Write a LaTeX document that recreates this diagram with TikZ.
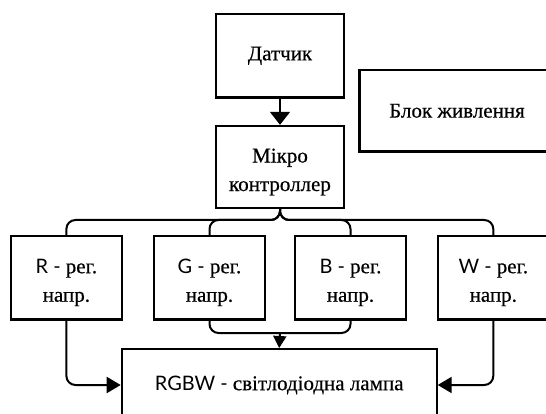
\documentclass[tikz,border=0pt]{standalone}
\usepackage{fontspec}
\setmainfont{Liberation Serif}
\newfontfamily\ser{Liberation Serif}[FakeBold=0.5]
\newfontfamily\lat{Lato}[Scale=0.95]
\newcommand\myup{\rule{0pt}{24pt}}
\usetikzlibrary{arrows.meta}
\begin{document}
\begin{tikzpicture}[x=1pt,y=-1pt,
  blk/.style={draw, line width=2.4pt, inner sep=0pt, align=center,
    font=\ser\fontsize{21}{28.5}\selectfont},
  regbox/.style={blk, line width=2.2pt, minimum width=110.5pt, minimum height=83.5pt},
  conn/.style={line width=2pt, rounded corners=9pt},
  tip/.style={-{Triangle[length=14pt,width=16pt]}}]
\useasboundingbox (0,0) rectangle (546,414);
\node[blk, minimum width=128.5pt, minimum height=83.5pt] (d) at (280,55.7) {Датчик};
\node[blk, minimum width=128pt, minimum height=82pt] (m) at (280,167) {\myup Мікро\\контроллер};
\node[blk, minimum width=195pt, minimum height=81.7pt, anchor=west] (p) at (358.3,110.8) {Блок живлення};
\node[regbox] (r) at (66.4,277.7) {\myup{\lat R - }рег.\\напр.};
\node[regbox] (g) at (209.5,277.7) {\myup{\lat G - }рег.\\напр.};
\node[regbox] (b) at (350.5,277.7) {\myup{\lat B - }рег.\\напр.};
\node[regbox] (w) at (493.3,277.7) {\myup{\lat W - }рег.\\напр.};
\node[blk, line width=2pt, minimum width=315pt, minimum height=72pt] (l) at (279.2,385) {{\lat RGBW - }світлодіодна лампа};
\coordinate (bus) at (280,220);
\coordinate (brk) at (280,333);
\draw[conn, -{Triangle[length=13pt,width=20pt]}] (d.south) -- (m.north);
\draw[conn] (m.south) -- (bus) -| (r.north);
\draw[conn] (m.south) -- (bus) -| (g.north);
\draw[conn] (m.south) -- (bus) -| (b.north);
\draw[conn] (m.south) -- (bus) -| (w.north);
\draw[conn] (g.south) |- (brk);
\draw[conn] (b.south) |- (brk);
\draw[line width=2pt, -{Triangle[length=12pt,width=13pt]}] (brk) -- (l.north);
\draw[conn, tip] (r.south) |- (l.west);
\draw[conn, tip] (w.south) |- (l.east);
\end{tikzpicture}
\end{document}
